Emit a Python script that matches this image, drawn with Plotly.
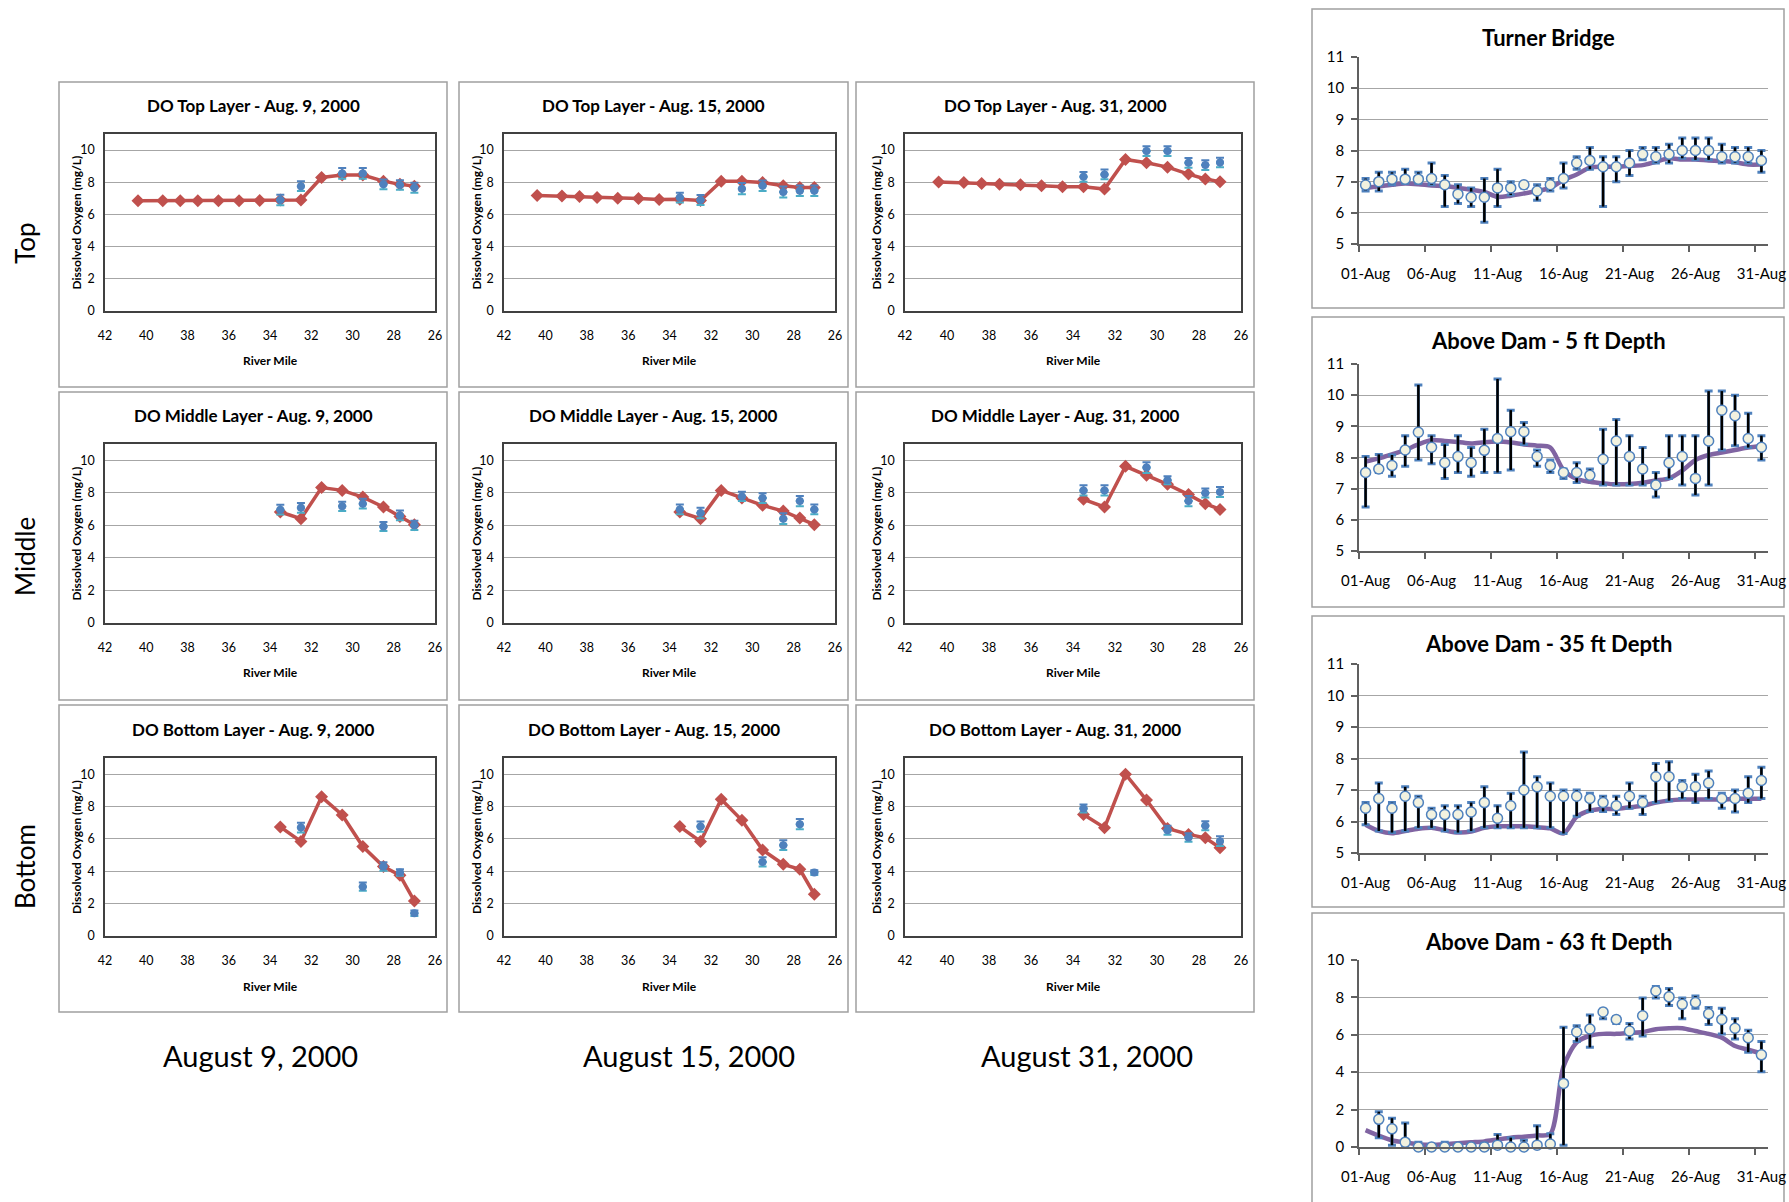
import plotly.graph_objects as go

W, H = 1789, 1202
FONT = "Lato"

TOP_MILES = [40.4, 39.2, 38.35, 37.5, 36.5, 35.5, 34.5, 33.5, 32.5, 31.5, 30.5, 29.5, 28.5, 27.7, 27.0]
LOWER_MILES = [33.5, 32.5, 31.5, 30.5, 29.5, 28.5, 27.7, 27.0]
OBS_MILES_UPPER = [33.5, 32.5, 30.5, 29.5, 28.5, 27.7, 27.0]
OBS_MILES_BOT_0809 = [32.5, 29.5, 28.5, 27.7, 27.0]
OBS_MILES_BOT_0815 = [32.5, 29.5, 28.5, 27.7, 27.0]
OBS_MILES_BOT_0831 = [33.5, 29.5, 28.5, 27.7, 27.0]

model_top_0809 = [6.85, 6.85, 6.85, 6.85, 6.85, 6.85, 6.87, 6.9, 6.9, 8.3, 8.45, 8.45, 8.07, 7.87, 7.76]
model_top_0815 = [7.18, 7.14, 7.12, 7.05, 7.01, 6.99, 6.93, 6.95, 6.87, 8.07, 8.07, 7.99, 7.78, 7.68, 7.68]
model_top_0831 = [8.01, 7.99, 7.93, 7.87, 7.85, 7.78, 7.72, 7.72, 7.58, 9.42, 9.21, 8.94, 8.51, 8.2, 8.04]
model_mid_0809 = [6.82, 6.41, 8.32, 8.15, 7.74, 7.13, 6.55, 6.04]
model_mid_0815 = [6.82, 6.41, 8.15, 7.68, 7.23, 6.88, 6.45, 6.04]
model_mid_0831 = [7.6, 7.13, 9.63, 9.08, 8.52, 7.89, 7.33, 6.98]
model_bot_0809 = [6.74, 5.84, 8.6, 7.48, 5.53, 4.29, 3.75, 2.16]
model_bot_0815 = [6.76, 5.84, 8.45, 7.15, 5.32, 4.43, 4.12, 2.58]
model_bot_0831 = [7.51, 6.69, 10.0, 8.4, 6.65, 6.28, 6.07, 5.45]

obs_top_0809 = [6.9, 7.76, 8.55, 8.55, 7.87, 7.83, 7.66]
obs_top_0815 = [7.05, 6.9, 7.6, 7.78, 7.4, 7.47, 7.47]
obs_top_0831 = [8.34, 8.49, 9.94, 9.94, 9.21, 9.07, 9.23]
obs_mid_0809 = [6.96, 7.08, 7.17, 7.33, 5.93, 6.61, 6.0]
obs_mid_0815 = [6.98, 6.76, 7.78, 7.68, 6.41, 7.49, 6.98]
obs_mid_0831 = [8.15, 8.15, 9.55, 8.77, 7.49, 7.99, 8.05]
obs_bot_0809 = [6.7, 3.05, 4.29, 3.92, 1.4]
obs_bot_0815 = [6.76, 4.58, 5.61, 6.91, 3.92]
obs_bot_0831 = [7.88, 6.54, 6.09, 6.81, 5.86]

err_top_0809 = [0.33, 0.3, 0.33, 0.33, 0.31, 0.3, 0.31]
err_top_0815 = [0.3, 0.31, 0.35, 0.33, 0.34, 0.33, 0.33]
err_top_0831 = [0.3, 0.3, 0.3, 0.3, 0.3, 0.3, 0.3]
err_mid_0809 = [0.3, 0.3, 0.28, 0.3, 0.28, 0.3, 0.28]
err_mid_0815 = [0.3, 0.32, 0.28, 0.3, 0.33, 0.32, 0.3]
err_mid_0831 = [0.32, 0.32, 0.33, 0.25, 0.32, 0.28, 0.3]
err_bot_0809 = [0.3, 0.26, 0.26, 0.2, 0.17]
err_bot_0815 = [0.32, 0.28, 0.3, 0.32, 0.15]
err_bot_0831 = [0.25, 0.28, 0.26, 0.28, 0.3]

RIVER_TICKS = [42, 40, 38, 36, 34, 32, 30, 28, 26]
DO_TICKS = [0, 2, 4, 6, 8, 10]

DAYS = list(range(1, 32))
DAY_TICK_DAYS = [1, 6, 11, 16, 21, 26, 31]
DAY_TICK_LABELS = ["01-Aug", "06-Aug", "11-Aug", "16-Aug", "21-Aug", "26-Aug", "31-Aug"]

tb_obs = [6.89, 7.0, 7.08, 7.08, 7.08, 7.1, 6.9, 6.6, 6.5, 6.5, 6.8, 6.8, 6.9, 6.7, 6.9, 7.1,
          7.6, 7.68, 7.48, 7.48, 7.6, 7.88, 7.8, 7.88, 8.0, 8.0, 8.0, 7.8, 7.8, 7.8, 7.68]
tb_hi = [7.1, 7.3, 7.3, 7.4, 7.3, 7.6, 7.2, 6.9, 6.8, 7.1, 7.4, 7.0, 6.97, 6.9, 7.1, 7.6,
         7.8, 8.1, 7.8, 7.8, 8.0, 8.1, 8.1, 8.2, 8.4, 8.4, 8.4, 8.2, 8.1, 8.1, 8.0]
tb_lo = [6.7, 6.7, 6.9, 6.95, 6.95, 6.9, 6.2, 6.3, 6.2, 5.7, 6.2, 6.57, 6.8, 6.4, 6.7, 6.8,
         7.4, 7.4, 6.2, 7.0, 7.2, 7.7, 7.6, 7.6, 7.75, 7.7, 7.7, 7.6, 7.6, 7.6, 7.3]
tb_model = [6.8, 6.85, 6.9, 6.94, 6.92, 6.88, 6.86, 6.8, 6.74, 6.67, 6.51, 6.55, 6.62, 6.7, 6.8, 7.05,
            7.23, 7.45, 7.48, 7.48, 7.51, 7.53, 7.64, 7.75, 7.71, 7.71, 7.68, 7.66, 7.62, 7.55, 7.55]

d5_obs = [7.52, 7.63, 7.74, 8.24, 8.81, 8.33, 7.83, 8.03, 7.83, 8.23, 8.61, 8.83, 8.83, 8.03, 7.74, 7.52,
          7.52, 7.43, 7.94, 8.53, 8.03, 7.63, 7.12, 7.83, 8.03, 7.33, 8.53, 9.52, 9.34, 8.61, 8.33]
d5_hi = [8.03, 8.1, 8.08, 8.7, 10.33, 8.7, 8.42, 8.7, 8.32, 8.91, 10.52, 9.52, 9.12, 8.24, 7.92, 7.63,
         7.83, 7.63, 8.91, 9.22, 8.7, 8.32, 7.52, 8.7, 8.7, 8.7, 10.13, 10.13, 10.0, 9.42, 8.7]
d5_lo = [6.41, 7.52, 7.4, 7.72, 7.92, 7.8, 7.33, 7.52, 7.4, 7.52, 7.52, 7.6, 8.42, 7.72, 7.52, 7.33,
         7.2, 7.33, 7.12, 7.12, 7.12, 7.12, 6.73, 7.33, 7.12, 6.8, 7.12, 8.24, 8.38, 8.32, 7.92]
d5_model = [7.87, 7.97, 8.1, 8.24, 8.42, 8.56, 8.53, 8.5, 8.45, 8.49, 8.51, 8.48, 8.42, 8.38, 8.32, 7.6,
            7.31, 7.22, 7.17, 7.14, 7.15, 7.19, 7.26, 7.33, 7.58, 7.92, 8.08, 8.16, 8.24, 8.32, 8.37]

d35_obs = [6.42, 6.73, 6.42, 6.8, 6.6, 6.22, 6.22, 6.22, 6.3, 6.6, 6.1, 6.5, 7.0, 7.1, 6.8, 6.8,
           6.8, 6.73, 6.6, 6.5, 6.8, 6.6, 7.42, 7.42, 7.1, 7.1, 7.22, 6.73, 6.73, 6.9, 7.3]
d35_hi = [6.6, 7.22, 6.6, 7.1, 6.8, 6.42, 6.5, 6.5, 6.6, 7.1, 6.5, 6.9, 8.21, 7.42, 7.22, 7.0,
          7.0, 6.9, 6.8, 6.8, 7.22, 6.8, 7.84, 7.9, 7.3, 7.5, 7.6, 6.9, 7.0, 7.42, 7.72]
d35_lo = [5.9, 5.7, 5.65, 5.7, 5.8, 5.8, 5.7, 5.65, 5.7, 5.8, 5.8, 5.8, 5.8, 5.8, 5.8, 5.62,
          6.17, 6.32, 6.32, 6.22, 6.42, 6.22, 6.6, 6.66, 6.73, 6.6, 6.73, 6.42, 6.3, 6.6, 6.73]
d35_model = [5.9, 5.7, 5.63, 5.7, 5.77, 5.8, 5.72, 5.65, 5.68, 5.8, 5.85, 5.85, 5.85, 5.82, 5.78, 5.62,
             6.15, 6.35, 6.4, 6.4, 6.45, 6.5, 6.6, 6.67, 6.7, 6.7, 6.7, 6.7, 6.72, 6.72, 6.72]

d63_obs = [None, 1.48, 0.97, 0.26, 0.0, 0.0, 0.0, 0.0, 0.0, 0.0, 0.1, 0.0, 0.0, 0.1, 0.16, 3.4,
           6.15, 6.31, 7.22, 6.82, 6.2, 7.02, 8.34, 8.03, 7.63, 7.73, 7.12, 6.82, 6.35, 5.84, 4.93]
d63_hi = [None, 1.89, 1.54, 1.28, 0.26, 0.1, 0.26, 0.1, 0.1, 0.2, 0.67, 0.5, 0.36, 1.14, 0.71, 6.41,
          6.49, 7.06, 7.36, 6.96, 6.61, 7.97, 8.58, 8.48, 7.97, 8.07, 7.46, 7.42, 6.86, 6.25, 5.64]
d63_lo = [None, 0.5, 0.1, 0.0, 0.0, 0.0, 0.0, 0.0, 0.0, 0.0, 0.0, 0.0, 0.0, 0.0, 0.0, 0.1,
          5.64, 5.33, 6.86, 6.61, 5.78, 5.94, 7.97, 7.57, 6.86, 7.42, 6.55, 6.04, 5.78, 5.07, 4.02]
d63_model = [0.9, 0.6, 0.35, 0.25, 0.15, 0.12, 0.15, 0.2, 0.25, 0.3, 0.4, 0.5, 0.55, 0.62, 0.7, 4.3,
             5.6, 5.95, 6.05, 6.05, 6.1, 6.15, 6.3, 6.35, 6.35, 6.2, 6.05, 5.85, 5.4, 5.2, 5.0]

RED = "#c0504d"
BLUE = "#4f81bd"
TEAL = "#4bacc6"
PURPLE = "#8064a2"
GRID = "#a6a6a6"
AXLINE = "#404040"

LEFT_COL_X = [(105, 435), (504, 835), (905, 1241)]
LEFT_ROW_Y = [(134, 311), (444, 623), (758, 936)]
LEFT_BOX_X = [(59, 447), (459, 848), (856, 1254)]
LEFT_BOX_Y = [(82, 387), (392, 700), (705, 1012)]
LEFT_TITLE_Y = [105, 415, 729]
LEFT_XTITLE_Y = [361, 673, 986]
LEFT_YTITLE_X = [76, 476, 876]

RIGHT_X = (1359, 1768)
RIGHT_Y = [(57, 244), (364, 551), (664, 853), (960, 1147)]
RIGHT_BOX_X = (1312, 1784)
RIGHT_BOX_Y = [(9, 308), (317, 607), (616, 907), (913, 1230)]
RIGHT_TITLE_Y = [38, 341, 643, 941]


def xdom(a, b):
    return [a / W, b / W]


def ydom(top, bot):
    return [1 - bot / H, 1 - top / H]


def px(x):
    return x / W


def py(y):
    return 1 - y / H


def label(text, x, y, size, angle=0):
    return dict(text=text, x=px(x), y=py(y), xref="paper", yref="paper", showarrow=False,
                xanchor="center", yanchor="middle", textangle=angle,
                font=dict(size=size, family=FONT, color="black"))


left_panels = [
    ("DO Top Layer - Aug. 9, 2000", TOP_MILES, model_top_0809, OBS_MILES_UPPER, obs_top_0809, err_top_0809),
    ("DO Top Layer - Aug. 15, 2000", TOP_MILES, model_top_0815, OBS_MILES_UPPER, obs_top_0815, err_top_0815),
    ("DO Top Layer - Aug. 31, 2000", TOP_MILES, model_top_0831, OBS_MILES_UPPER, obs_top_0831, err_top_0831),
    ("DO Middle Layer - Aug. 9, 2000", LOWER_MILES, model_mid_0809, OBS_MILES_UPPER, obs_mid_0809, err_mid_0809),
    ("DO Middle Layer - Aug. 15, 2000", LOWER_MILES, model_mid_0815, OBS_MILES_UPPER, obs_mid_0815, err_mid_0815),
    ("DO Middle Layer - Aug. 31, 2000", LOWER_MILES, model_mid_0831, OBS_MILES_UPPER, obs_mid_0831, err_mid_0831),
    ("DO Bottom Layer - Aug. 9, 2000", LOWER_MILES, model_bot_0809, OBS_MILES_BOT_0809, obs_bot_0809, err_bot_0809),
    ("DO Bottom Layer - Aug. 15, 2000", LOWER_MILES, model_bot_0815, OBS_MILES_BOT_0815, obs_bot_0815, err_bot_0815),
    ("DO Bottom Layer - Aug. 31, 2000", LOWER_MILES, model_bot_0831, OBS_MILES_BOT_0831, obs_bot_0831, err_bot_0831),
]

right_panels = [
    ("Turner Bridge", tb_obs, tb_hi, tb_lo, tb_model, (5, 11), 1),
    ("Above Dam - 5 ft Depth", d5_obs, d5_hi, d5_lo, d5_model, (5, 11), 1),
    ("Above Dam - 35 ft Depth", d35_obs, d35_hi, d35_lo, d35_model, (5, 11), 1),
    ("Above Dam - 63 ft Depth", d63_obs, d63_hi, d63_lo, d63_model, (0, 10), 2),
]

fig = go.Figure()
layout = dict(
    width=W, height=H, margin=dict(l=0, r=0, t=0, b=0, pad=0, autoexpand=False),
    paper_bgcolor="white", plot_bgcolor="white", showlegend=False,
    font=dict(family=FONT, color="black"),
)
annotations = []
shapes = []


def axkey(kind, n):
    return f"{kind}axis" if n == 1 else f"{kind}axis{n}"


def ref(kind, n):
    return kind if n == 1 else f"{kind}{n}"


n = 0
for idx, (title, mx, my, ox, oy, oerr) in enumerate(left_panels):
    n += 1
    r, c = divmod(idx, 3)
    xr, yr = ref("x", n), ref("y", n)
    layout[axkey("x", n)] = dict(
        domain=xdom(*LEFT_COL_X[c]), anchor=yr, range=[42, 26], tickmode="array",
        tickvals=RIVER_TICKS, showgrid=False, zeroline=False, showline=True, mirror=True,
        linecolor=AXLINE, linewidth=1.5, ticks="", ticklabelstandoff=12, automargin=False,
        tickfont=dict(size=12.5, family=FONT, color="black"),
    )
    layout[axkey("y", n)] = dict(
        domain=ydom(*LEFT_ROW_Y[r]), anchor=xr, range=[0, 11], tickmode="array",
        tickvals=DO_TICKS, showgrid=True, gridcolor=GRID, gridwidth=1, zeroline=False,
        showline=True, mirror=True, linecolor=AXLINE, linewidth=1.5, ticks="", automargin=False,
        ticklabelstandoff=6, tickfont=dict(size=12.5, family=FONT, color="black"),
    )
    fig.add_trace(go.Scatter(
        x=mx, y=my, xaxis=xr, yaxis=yr, mode="lines+markers",
        line=dict(color=RED, width=3.5),
        marker=dict(symbol="diamond", size=10, color=RED), cliponaxis=False,
    ))
    fig.add_trace(go.Scatter(
        x=ox, y=oy, xaxis=xr, yaxis=yr, mode="markers",
        marker=dict(size=1, color="rgba(0,0,0,0)"),
        error_y=dict(type="data", symmetric=False, array=oerr, arrayminus=[0] * len(oerr),
                     color=BLUE, thickness=2, width=4),
    ))
    fig.add_trace(go.Scatter(
        x=ox, y=oy, xaxis=xr, yaxis=yr, mode="markers",
        marker=dict(size=1, color="rgba(0,0,0,0)"),
        error_y=dict(type="data", symmetric=False, array=[0] * len(oerr), arrayminus=oerr,
                     color=TEAL, thickness=2, width=4),
    ))
    fig.add_trace(go.Scatter(
        x=ox, y=oy, xaxis=xr, yaxis=yr, mode="markers",
        marker=dict(symbol="circle", size=8, color=BLUE),
    ))
    bx, by = LEFT_BOX_X[c], LEFT_BOX_Y[r]
    shapes.append(dict(type="rect", xref="paper", yref="paper", x0=px(bx[0]), x1=px(bx[1]),
                       y0=py(by[1]), y1=py(by[0]), line=dict(color="#a0a0a0", width=1.5),
                       fillcolor="rgba(0,0,0,0)", layer="below"))
    annotations.append(label(f"<b>{title}</b>", (bx[0] + bx[1]) / 2, LEFT_TITLE_Y[r], 17))
    annotations.append(label("<b>River Mile</b>", sum(LEFT_COL_X[c]) / 2, LEFT_XTITLE_Y[r], 12))
    annotations.append(label("<b>Dissolved Oxygen (mg/L)</b>", LEFT_YTITLE_X[c],
                             sum(LEFT_ROW_Y[r]) / 2, 12, -90))

day_pos = [d - 0.5 for d in DAYS]
tick_pos = [d - 0.5 for d in DAY_TICK_DAYS]

for k, (title, obs, hi, lo, model, yrange, ydt) in enumerate(right_panels):
    n += 1
    xr, yr = ref("x", n), ref("y", n)
    layout[axkey("x", n)] = dict(
        domain=xdom(*RIGHT_X), anchor=yr, range=[0, 31], tickmode="array",
        tickvals=tick_pos, ticktext=DAY_TICK_LABELS, ticks="", showgrid=False, zeroline=False,
        showline=True, linecolor="#606060", linewidth=1.5, ticklabelstandoff=15, automargin=False,
        minor=dict(tick0=0, dtick=5, ticks="outside", ticklen=6, tickcolor="#606060",
                   tickwidth=1.5, showgrid=False),
        tickfont=dict(size=15, family=FONT, color="black"),
    )
    layout[axkey("y", n)] = dict(
        domain=ydom(*RIGHT_Y[k]), anchor=xr, range=list(yrange), tick0=yrange[0], dtick=ydt,
        showgrid=True, gridcolor=GRID, gridwidth=1, zeroline=False, showline=True,
        linecolor="#606060", linewidth=1.5, ticks="outside", ticklen=6, tickcolor="#606060",
        tickwidth=1.5, ticklabelstandoff=4, automargin=False,
        tickfont=dict(size=15, family=FONT, color="black"),
    )
    plus = [None if o is None else h - o for o, h in zip(obs, hi)]
    minus = [None if o is None else o - l for o, l in zip(obs, lo)]
    fig.add_trace(go.Scatter(
        x=day_pos, y=model, xaxis=xr, yaxis=yr, mode="lines",
        line=dict(color=PURPLE, width=4.5, shape="spline", smoothing=0.8), cliponaxis=False,
    ))
    fig.add_trace(go.Scatter(
        x=day_pos, y=obs, xaxis=xr, yaxis=yr, mode="markers",
        marker=dict(size=1, color="rgba(0,0,0,0)"), cliponaxis=False,
        error_y=dict(type="data", symmetric=False, array=plus, arrayminus=minus,
                     color=BLUE, thickness=3, width=4),
    ))
    fig.add_trace(go.Scatter(
        x=day_pos, y=obs, xaxis=xr, yaxis=yr, mode="markers",
        marker=dict(size=1, color="rgba(0,0,0,0)"), cliponaxis=False,
        error_y=dict(type="data", symmetric=False, array=plus, arrayminus=minus,
                     color="black", thickness=2.5, width=0),
    ))
    fig.add_trace(go.Scatter(
        x=day_pos, y=obs, xaxis=xr, yaxis=yr, mode="markers", cliponaxis=False,
        marker=dict(symbol="circle", size=10, color="#f2f2e0", line=dict(color=BLUE, width=1.5)),
    ))
    by = RIGHT_BOX_Y[k]
    shapes.append(dict(type="rect", xref="paper", yref="paper", x0=px(RIGHT_BOX_X[0]),
                       x1=px(RIGHT_BOX_X[1]), y0=py(by[1]), y1=py(by[0]),
                       line=dict(color="#a0a0a0", width=1.5), fillcolor="rgba(0,0,0,0)",
                       layer="below"))
    annotations.append(label(f"<b>{title}</b>", sum(RIGHT_BOX_X) / 2, RIGHT_TITLE_Y[k], 22))

for text, yc in [("Top", 243), ("Middle", 557), ("Bottom", 867)]:
    annotations.append(label(text, 25, yc, 26, -90))
for text, xc in [("August 9, 2000", 260), ("August 15, 2000", 689), ("August 31, 2000", 1087)]:
    annotations.append(label(text, xc, 1055, 29))

layout["annotations"] = annotations
layout["shapes"] = shapes
fig.update_layout(**layout)

fig.write_html(
    "out.html",
    post_script="document.body.style.margin='0';document.body.style.overflow='hidden';",
)
